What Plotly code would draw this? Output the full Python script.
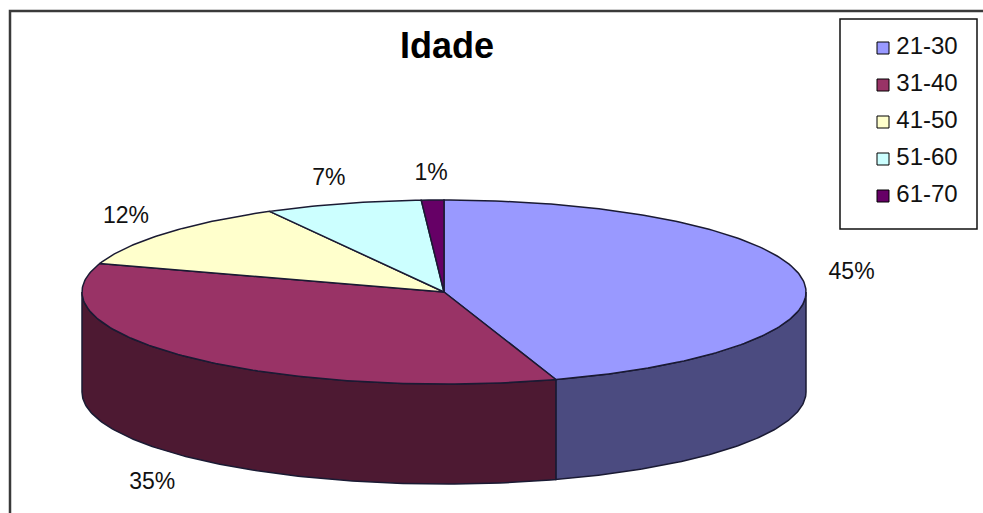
import numpy as np
import plotly.graph_objects as go

# ---- data ----
categories = ["21-30", "31-40", "41-50", "51-60", "61-70"]
values = [45, 35, 12, 7, 1]
top_colors = ["#9999FF", "#993366", "#FFFFCC", "#CCFFFF", "#660066"]
side_colors = ["#4B4B80", "#4D1932", "#80806A", "#6A8080", "#330033"]
title_text = "Idade"

# ---- geometry (pixel space) ----
W, H = 983, 513
CX, CY, RX, RY, DEPTH = 444, 292, 362, 92, 100
EDGE = "#1A1A33"

total = sum(values)
fracs = [v / total for v in values]
starts = np.cumsum([0] + fracs[:-1]) * 360.0
ends = starts + np.array(fracs) * 360.0


def ell(theta_deg, dy=0.0, sx=1.0, sy=1.0):
    t = np.radians(theta_deg)
    return CX + RX * sx * np.sin(t), CY - RY * sy * np.cos(t) + dy


fig = go.Figure()

# side walls (only the front half, 90..270 deg, is visible)
for i in range(len(values)):
    a, b = max(starts[i], 90.0), min(ends[i], 270.0)
    if b <= a:
        continue
    th = np.linspace(a, b, 120)
    xt, yt = ell(th)
    xb, yb = ell(th[::-1], dy=DEPTH)
    fig.add_trace(go.Scatter(
        x=np.concatenate([xt, xb, xt[:1]]), y=np.concatenate([yt, yb, yt[:1]]),
        mode="lines", fill="toself", fillcolor=side_colors[i],
        line=dict(color=EDGE, width=1.5), hoverinfo="skip", showlegend=False))

# top faces
for i in range(len(values)):
    th = np.linspace(starts[i], ends[i], max(4, int(fracs[i] * 400)))
    xe, ye = ell(th)
    fig.add_trace(go.Scatter(
        x=np.concatenate([[CX], xe, [CX]]), y=np.concatenate([[CY], ye, [CY]]),
        mode="lines", fill="toself", fillcolor=top_colors[i],
        line=dict(color=EDGE, width=1.5), hoverinfo="skip", showlegend=False,
        name=categories[i]))

# percent labels at mid-angle, outside the slice
lab_x, lab_y, lab_t = [], [], []
for i in range(len(values)):
    mid = (starts[i] + ends[i]) / 2
    dy = DEPTH * 1.08 if 90 < mid < 270 else 0
    x, y = ell(mid, dy=dy, sx=1.14, sy=1.28)
    lab_x.append(x)
    lab_y.append(y)
    lab_t.append(f"{round(fracs[i] * 100)}%")
fig.add_trace(go.Scatter(
    x=lab_x, y=lab_y, text=lab_t, mode="text", textposition="middle center",
    textfont=dict(family="Liberation Sans, Arial", size=23, color="#111111"),
    hoverinfo="skip", showlegend=False))

# manual legend
LEG_X, LEG_Y0, LEG_DY = 883, 48, 37
for i, c in enumerate(categories):
    fig.add_trace(go.Scatter(
        x=[LEG_X], y=[LEG_Y0 + i * LEG_DY], mode="markers+text",
        marker=dict(symbol="square", size=12, color=top_colors[i],
                    line=dict(color="#000000", width=1)),
        text=["\u2009" + c], textposition="middle right",
        textfont=dict(family="Liberation Sans, Arial", size=24, color="#111111"),
        hoverinfo="skip", showlegend=False))

fig.update_layout(
    width=W, height=H,
    margin=dict(l=0, r=0, t=0, b=0),
    paper_bgcolor="white", plot_bgcolor="white",
    xaxis=dict(range=[0, W], visible=False, fixedrange=True),
    yaxis=dict(range=[H, 0], visible=False, fixedrange=True),
    shapes=[
        dict(type="rect", xref="x", yref="y", x0=10, y0=11, x1=W + 20, y1=H + 20,
             line=dict(color="#3A3A3A", width=2.5)),
        dict(type="rect", xref="x", yref="y", x0=840, y0=19, x1=977, y1=229,
             line=dict(color="#111111", width=1.5), fillcolor="rgba(0,0,0,0)"),
    ],
    annotations=[
        dict(text=f"<b>{title_text}</b>", x=447, y=45, xref="x", yref="y",
             showarrow=False, xanchor="center", yanchor="middle",
             font=dict(family="Liberation Sans, Arial", size=36, color="#000000")),
    ],
)

fig.write_html("out.html")
